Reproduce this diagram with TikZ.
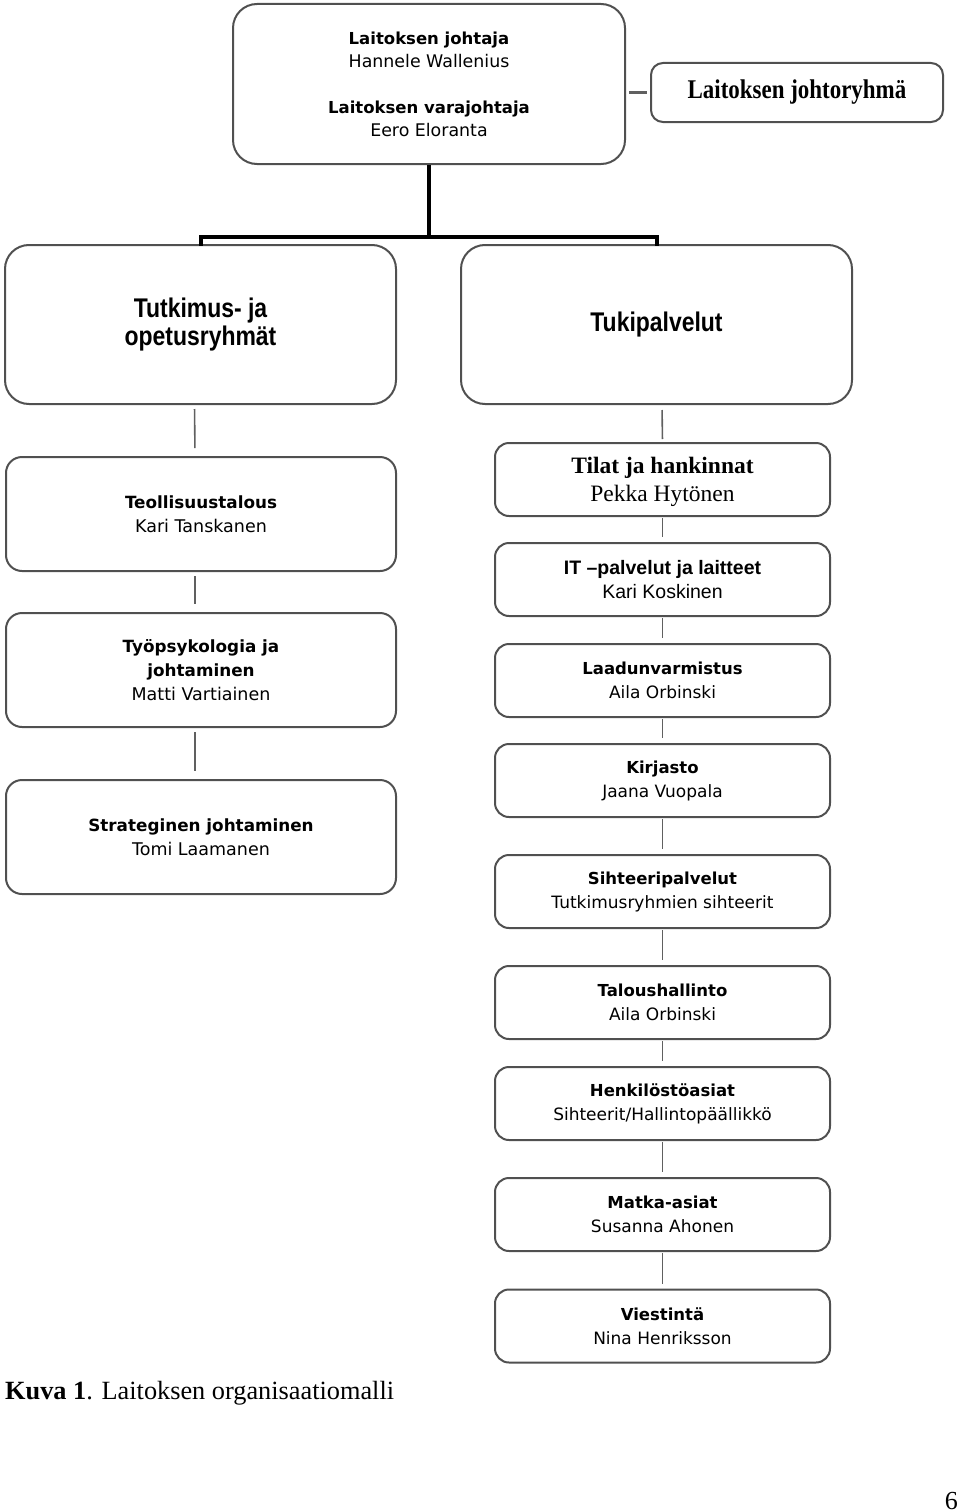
\documentclass[tikz,border=0pt]{standalone}
\usepackage{fontspec}
\setmainfont{Liberation Serif}
\newfontfamily\arialf{Liberation Sans}
\newfontfamily\narrowf[FakeStretch=0.85]{Liberation Sans}
\newfontfamily\tahf{DejaVu Sans}
\newfontfamily\johtof[FakeStretch=0.85]{Liberation Serif}
\definecolor{boxgray}{HTML}{505050}
\definecolor{linegray}{HTML}{606060}
\newcommand{\hdr}[2][16.5]{{\fontsize{#1}{24}\selectfont\bfseries #2}}
\tikzset{
  bigbox/.style={draw=boxgray, line width=2pt, rounded corners=24pt, align=center, inner sep=0pt,
    minimum width=391pt, minimum height=159pt},
  leftbox/.style={draw=boxgray, line width=2pt, rounded corners=16pt, align=center, inner sep=0pt,
    minimum width=390pt, minimum height=114pt, font=\tahf\fontsize{17.5}{24}\selectfont},
  rightbox/.style={draw=boxgray, line width=2pt, rounded corners=14pt, align=center, inner sep=0pt,
    minimum width=335pt, minimum height=73pt, font=\tahf\fontsize{17}{24}\selectfont},
  thickline/.style={draw=black, line width=4pt},
  thinline/.style={draw=linegray, line width=1.6pt},
}
\begin{document}
\begin{tikzpicture}[x=1pt,y=-1pt]
\useasboundingbox (0,0) rectangle (960,1512);

% top
\node[bigbox, minimum width=392pt, minimum height=160pt, font=\tahf\fontsize{17.4}{23}\selectfont] (top) at (429,84)
  {\hdr[16.5]{Laitoksen johtaja}\\Hannele Wallenius\\[23pt]\hdr[16.5]{Laitoksen varajohtaja}\\Eero Eloranta};
\node[draw=boxgray, line width=2pt, rounded corners=12pt, inner sep=0pt, minimum width=292pt, minimum height=59pt,
  font=\johtof\bfseries\fontsize{27}{30}\selectfont] (grp) at (797,92.5) {Laitoksen johtoryhmä};
\draw[draw=linegray, line width=3pt, shorten <=3pt, shorten >=3pt] (top.east |- grp.west) -- (grp.west);

\node[bigbox, font=\narrowf\bfseries\fontsize{27}{28}\selectfont] (tut) at (200.5,324.5) {Tutkimus- ja\\opetusryhmät};
\node[bigbox, font=\narrowf\bfseries\fontsize{27}{28}\selectfont] (tuk) at (656.5,324.5) {Tukipalvelut};

\coordinate (bar) at (429,237);
\draw[thickline] (top.south) -- (top.south |- bar);
\draw[thickline, line cap=rect] (tut.north) -- (tut.north |- bar) -- (tuk.north |- bar) -- (tuk.north);

% left column
\node[leftbox] (l1) at (201,514) {\hdr[16.8]{Teollisuustalous}\\Kari Tanskanen};
\node[leftbox] (l2) at (201,670) {\hdr[16.8]{Työpsykologia ja}\\\hdr[16.8]{johtaminen}\\Matti Vartiainen};
\node[leftbox] (l3) at (201,837) {\hdr[16.8]{Strateginen johtaminen}\\Tomi Laamanen};
\draw[thinline, shorten <=4pt, shorten >=8pt] ([xshift=-6pt]tut.south) -- ([xshift=-6pt]l1.north);
\draw[thinline, shorten <=4pt, shorten >=8pt] ([xshift=-6pt]l1.south) -- ([xshift=-6pt]l2.north);
\draw[thinline, shorten <=4pt, shorten >=8pt] ([xshift=-6pt]l2.south) -- ([xshift=-6pt]l3.north);

% right column
\node[rightbox, font=\fontsize{23.5}{28}\selectfont] (r1) at (662.5,479.5) {\rule{0pt}{22pt}\textbf{Tilat ja hankinnat}\\Pekka Hytönen};
\node[rightbox, font=\arialf\fontsize{19.5}{24}\selectfont] (r2) at (662.5,579.5) {\textbf{IT –palvelut ja laitteet}\\Kari Koskinen};
\node[rightbox] (r3) at (662.5,680.5) {\hdr{Laadunvarmistus}\\Aila Orbinski};
\node[rightbox] (r4) at (662.5,780.5) {\hdr{Kirjasto}\\Jaana Vuopala};
\node[rightbox] (r5) at (662.5,891.5) {\hdr{Sihteeripalvelut}\\Tutkimusryhmien sihteerit};
\node[rightbox] (r6) at (662.5,1002.5) {\hdr{Taloushallinto}\\Aila Orbinski};
\node[rightbox] (r7) at (662.5,1103.5) {\hdr{Henkilöstöasiat}\\Sihteerit/Hallintopäällikkö};
\node[rightbox] (r8) at (662.5,1214.5) {\hdr{Matka-asiat}\\Susanna Ahonen};
\node[rightbox] (r9) at (662.5,1326) {\hdr{Viestintä}\\Nina Henriksson};
\draw[thinline, shorten <=5pt, shorten >=3pt] ([xshift=5.5pt]tuk.south) -- (r1.north);
\foreach \a/\b in {r1/r2,r2/r3,r3/r4,r4/r5,r5/r6,r6/r7,r7/r8,r8/r9}
  \draw[thinline, shorten <=1pt, shorten >=5pt] (\a.south) -- (\b.north);

% caption
\node[anchor=base west, inner sep=0pt, font=\fontsize{26.3}{30}\selectfont] (cap) at (5,1399)
  {\textbf{Kuva 1}. Laitoksen organisaatiomalli};
\node[anchor=base east, inner sep=0pt, font=\fontsize{26}{30}\selectfont] (pg) at (958,1509) {6};
\end{tikzpicture}
\end{document}
